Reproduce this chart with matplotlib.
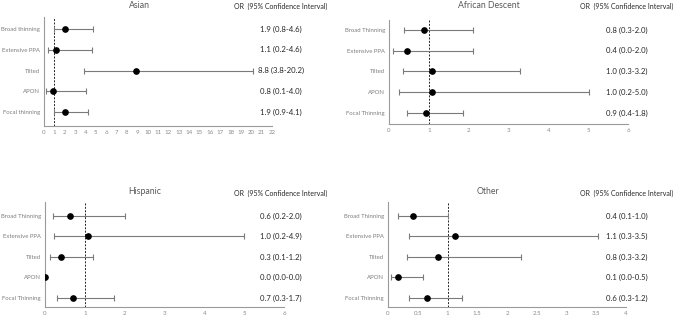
import matplotlib.pyplot as plt
from matplotlib.transforms import blended_transform_factory

plt.rcParams['font.family'] = ['Lato', 'DejaVu Sans']

# rows, top to bottom
rows_lower = ["Broad thinning", "Extensive PPA", "Tilted", "APON", "Focal thinning"]
rows_upper = ["Broad Thinning", "Extensive PPA", "Tilted", "APON", "Focal Thinning"]

# Asian
asian_or = [2.0, 1.2, 8.9, 0.9, 2.0]
asian_lo = [0.95, 0.35, 3.9, 0.2, 1.0]
asian_hi = [4.75, 4.65, 20.15, 4.1, 4.2]
asian_txt = ["1.9 (0.8-4.6)", "1.1 (0.2-4.6)", "8.8 (3.8-20.2)", "0.8 (0.1-4.0)", "1.9 (0.9-4.1)"]

# African Descent
afr_or = [0.88, 0.45, 1.08, 1.08, 0.92]
afr_lo = [0.38, 0.1, 0.35, 0.24, 0.44]
afr_hi = [2.1, 2.11, 3.3, 5.03, 1.87]
afr_txt = ["0.8 (0.3-2.0)", "0.4 (0.0-2.0)", "1.0 (0.3-3.2)", "1.0 (0.2-5.0)", "0.9 (0.4-1.8)"]

# Hispanic
his_or = [0.62, 1.09, 0.39, 0.0, 0.7]
his_lo = [0.2, 0.23, 0.13, 0.0, 0.3]
his_hi = [2.01, 4.99, 1.2, 0.0, 1.73]
his_txt = ["0.6 (0.2-2.0)", "1.0 (0.2-4.9)", "0.3 (0.1-1.2)", "0.0 (0.0-0.0)", "0.7 (0.3-1.7)"]

# Other
oth_or = [0.42, 1.13, 0.84, 0.16, 0.66]
oth_lo = [0.17, 0.36, 0.32, 0.05, 0.35]
oth_hi = [1.01, 3.53, 2.24, 0.58, 1.24]
oth_txt = ["0.4 (0.1-1.0)", "1.1 (0.3-3.5)", "0.8 (0.3-3.2)", "0.1 (0.0-0.5)", "0.6 (0.3-1.2)"]

W, H = 675, 320
fig = plt.figure(figsize=(6.75, 3.2), dpi=100)

def px(x0, y0, x1, y1):
    return [x0 / W, 1 - y1 / H, (x1 - x0) / W, (y1 - y0) / H]

panels = [
    # title, labels, or, lo, hi, txt, axes box, ylim, xmax, xticks, title pos, text x
    ("Asian", rows_lower, asian_or, asian_lo, asian_hi, asian_txt,
     px(44, 17, 272, 126), (4.67, -0.58), 22, list(range(0, 23)), (139, 5), (281, 6)),
    ("African Descent", rows_upper, afr_or, afr_lo, afr_hi, afr_txt,
     px(389, 20, 628, 124), (4.53, -0.48), 6, list(range(0, 7)), (489, 6), (627, 6)),
    ("Hispanic", rows_upper, his_or, his_lo, his_hi, his_txt,
     px(45, 202, 284, 307), (4.44, -0.68), 6, list(range(0, 7)), (145, 192), (281, 193)),
    ("Other", rows_upper, oth_or, oth_lo, oth_hi, oth_txt,
     px(388, 202, 626, 307), (4.44, -0.68), 4, [0, 0.5, 1, 1.5, 2, 2.5, 3, 3.5, 4], (488, 192), (627, 193)),
]

for title, labels, orv, lo, hi, txt, box, ylim, xmax, xticks, tpos, hpos in panels:
    ax = fig.add_axes(box)
    y = list(range(len(labels)))
    err = [[o - l for o, l in zip(orv, lo)], [h - o for o, h in zip(orv, hi)]]
    ax.errorbar(orv, y, xerr=err, fmt='o', color='black', ms=3.8,
                ecolor='#7a7a7a', elinewidth=0.8, capsize=2, capthick=0.8, zorder=3)
    ax.axvline(1, color='#222222', lw=0.7, ls=(0, (2, 1.5)), zorder=2)
    ax.set_xlim(0, xmax)
    ax.set_ylim(*ylim)
    ax.set_yticks(y)
    ax.set_yticklabels(labels, fontsize=4.3, color='#7f7f7f')
    ax.set_xticks(xticks)
    ax.set_xticklabels([('%g' % t) for t in xticks], fontsize=4.4, color='#8a8a8a')
    ax.tick_params(length=0, pad=3)
    for s in ['top', 'right']:
        ax.spines[s].set_visible(False)
    for s in ['left', 'bottom']:
        ax.spines[s].set_color('#9a9a9a')
        ax.spines[s].set_linewidth(0.8)
    ax.patch.set_alpha(0)

    fig.text(tpos[0] / W, 1 - tpos[1] / H, title, ha='center', va='center',
             fontsize=6.3, color='#595959')
    fig.text(hpos[0] / W, 1 - hpos[1] / H, "OR  (95% Confidence Interval)", ha='center',
             va='center', fontsize=5.0, color='#262626')
    tr = blended_transform_factory(fig.transFigure, ax.transData)
    for yi, t in zip(y, txt):
        ax.text(hpos[0] / W, yi, t, transform=tr, ha='center', va='center',
                fontsize=5.6, color='#262626')

fig.savefig('out.png', dpi=100)
